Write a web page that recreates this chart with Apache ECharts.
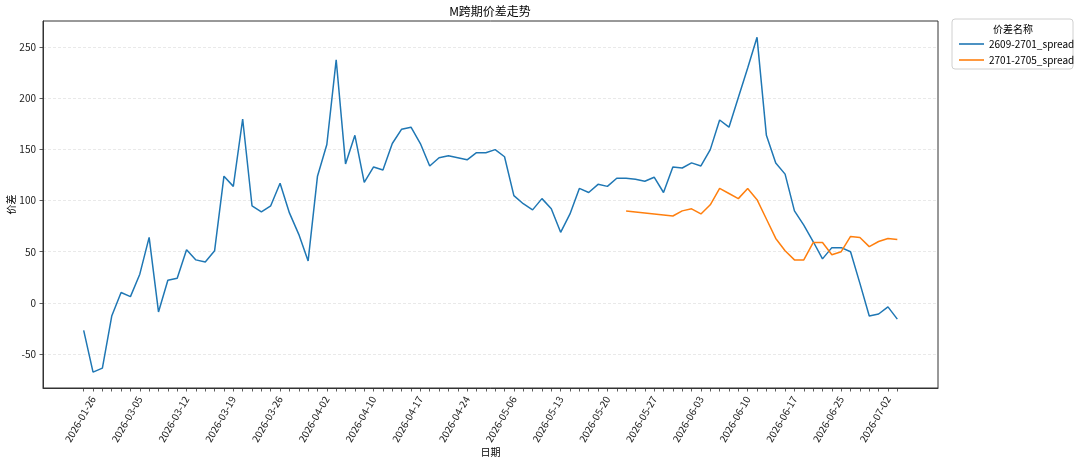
<!DOCTYPE html>
<html>
<head>
<meta charset="utf-8">
<script src="https://cdn.jsdelivr.net/npm/echarts@6/dist/echarts.min.js"></script>
<style>
html,body{margin:0;padding:0;background:#fff;}
#chart{width:1080px;height:466px;}
</style>
</head>
<body>
<div id="chart"></div>
<script>
const dates = [
 '2026-01-23','2026-01-26','2026-02-27','2026-03-02','2026-03-03','2026-03-04','2026-03-05','2026-03-06','2026-03-09','2026-03-10',
 '2026-03-11','2026-03-12','2026-03-13','2026-03-16','2026-03-17','2026-03-18','2026-03-19','2026-03-20','2026-03-23','2026-03-24',
 '2026-03-25','2026-03-26','2026-03-27','2026-03-30','2026-03-31','2026-04-01','2026-04-02','2026-04-03','2026-04-07','2026-04-08',
 '2026-04-09','2026-04-10','2026-04-13','2026-04-14','2026-04-15','2026-04-16','2026-04-17','2026-04-20','2026-04-21','2026-04-22',
 '2026-04-23','2026-04-24','2026-04-27','2026-04-28','2026-04-29','2026-04-30','2026-05-06','2026-05-07','2026-05-08','2026-05-11',
 '2026-05-12','2026-05-13','2026-05-14','2026-05-15','2026-05-18','2026-05-19','2026-05-20','2026-05-21','2026-05-22','2026-05-25',
 '2026-05-26','2026-05-27','2026-05-28','2026-05-29','2026-06-01','2026-06-02','2026-06-03','2026-06-04','2026-06-05','2026-06-08',
 '2026-06-09','2026-06-10','2026-06-11','2026-06-12','2026-06-15','2026-06-16','2026-06-17','2026-06-18','2026-06-22','2026-06-23',
 '2026-06-24','2026-06-25','2026-06-26','2026-06-29','2026-06-30','2026-07-01','2026-07-02','2026-07-03'
];
const spread2609_2701 = [
 -27,-68,-64,-13,10,6,28,64,-9,22,
 24,52,42,40,51,124,114,180,95,89,
 95,117,88,67,41,124,155,238,136,164,
 118,133,130,156,170,172,156,134,142,144,
 142,140,147,147,150,143,105,97,91,102,
 92,69,87,112,108,116,114,122,122,121,
 119,123,108,133,132,137,134,150,179,172,
 201,230,260,164,137,126,90,76,60,43,
 54,54,50,19,-13,-11,-4,-16
];
const spread2701_2705 = [
 null,null,null,null,null,null,null,null,null,null,
 null,null,null,null,null,null,null,null,null,null,
 null,null,null,null,null,null,null,null,null,null,
 null,null,null,null,null,null,null,null,null,null,
 null,null,null,null,null,null,null,null,null,null,
 null,null,null,null,null,null,null,null,90,89,
 88,87,86,85,90,92,87,96,112,107,
 102,112,101,82,63,51,42,42,59,59,
 47,50,65,64,55,60,63,62
];
const seriesNames = ['2609-2701_spread','2701-2705_spread'];
const yTicks = [-50,0,50,100,150,200,250];
const labelEvery = 5, labelStart = 1;

// x positions: index shifted by a 5% margin so the axis starts at 0
const n = dates.length;
const margin = (n - 1) * 0.05;
const xMax = (n - 1) + 2 * margin;
const tickPos = dates.map((d,i)=>i + margin);
const labelPos = tickPos.filter((p,i) => i >= labelStart && (i - labelStart) % labelEvery === 0);
const toPairs = arr => arr.map((v,i)=>[i + margin, v]);

const FONT = '"Noto Sans CJK SC","DejaVu Sans",sans-serif';
const chart = echarts.init(document.getElementById('chart'), null, {renderer:'canvas'});
chart.setOption({
  animation:false,
  backgroundColor:'#fff',
  textStyle:{fontFamily:FONT},
  title:{
    text:'M跨期价差走势',
    left:490, top:5, padding:0, textAlign:'center',
    textStyle:{fontSize:12, fontWeight:'normal', color:'#000', fontFamily:FONT}
  },
  grid:{left:43, top:21, right:142, bottom:78, show:true, borderColor:'#333', borderWidth:1,
        containLabel:false, outerBoundsMode:'none'},
  xAxis:{
    type:'value', min:0, max:xMax,
    name:'日期', nameLocation:'middle', nameGap:59, nameMoveOverlap:false,
    nameTextStyle:{fontSize:10, color:'#000', fontFamily:FONT},
    axisLine:{show:true, onZero:false, lineStyle:{color:'#333', width:1}},
    axisTick:{show:true, length:3.5, customValues:tickPos, lineStyle:{color:'#333', width:0.8}},
    axisLabel:{customValues:labelPos, rotate:60, margin:9, fontSize:10, color:'#222', fontFamily:FONT,
      formatter:v => dates[Math.round(v - margin)] || ''},
    splitLine:{show:false}
  },
  yAxis:{
    type:'value', min:-83.5, max:276,
    name:'价差', nameLocation:'middle', nameGap:27, nameRotate:90, nameMoveOverlap:false,
    nameTextStyle:{fontSize:10, color:'#000', fontFamily:FONT},
    axisLine:{show:true, onZero:false, lineStyle:{color:'#333', width:1}},
    axisTick:{show:true, length:3.5, customValues:yTicks, lineStyle:{color:'#333', width:0.8}},
    axisLabel:{customValues:yTicks, margin:7, fontSize:10, color:'#222', fontFamily:FONT},
    splitLine:{show:true, lineStyle:{color:'#e3e3e3', type:[3,2], width:0.8}}
  },
  legend:{
    left:959, top:37, padding:0, orient:'vertical', icon:'rect', itemWidth:25, itemHeight:1.6, itemGap:2,
    textStyle:{fontSize:10, color:'#000', lineHeight:14, fontFamily:FONT},
    data:seriesNames
  },
  graphic:[
    {type:'rect', shape:{x:952, y:19, width:121, height:50, r:3}, style:{fill:'#fff', stroke:'#d0d0d0', lineWidth:1}, z:0},
    {type:'text', x:1013, y:29, style:{text:'价差名称', textAlign:'center', textVerticalAlign:'middle', fontSize:10, fill:'#000', fontFamily:FONT}, z:1}
  ],
  series:[
    {name:seriesNames[0], type:'line', data:toPairs(spread2609_2701), showSymbol:false, symbol:'none',
     lineStyle:{color:'#1f77b4', width:1.5}, itemStyle:{color:'#1f77b4'}},
    {name:seriesNames[1], type:'line', data:toPairs(spread2701_2705), showSymbol:false, symbol:'none', connectNulls:false,
     lineStyle:{color:'#ff7f0e', width:1.5}, itemStyle:{color:'#ff7f0e'}}
  ]
});
</script>
</body>
</html>
